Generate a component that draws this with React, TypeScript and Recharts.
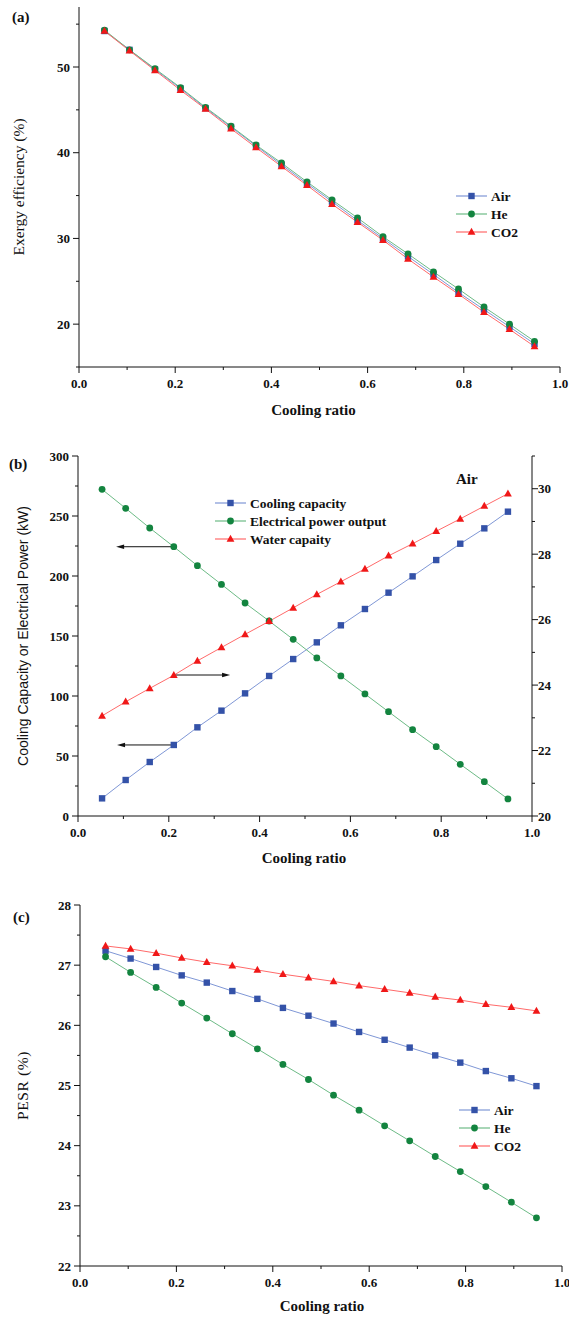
import React from "react";
import {
  LineChart,
  Line,
  XAxis,
  YAxis,
  Legend,
  Label,
  ReferenceLine,
} from "recharts";

// cooling ratio values shared by all three panels
const coolingRatio = [0.053, 0.105, 0.158, 0.211, 0.263, 0.316, 0.368, 0.421, 0.474, 0.526, 0.579, 0.632, 0.684, 0.737, 0.789, 0.842, 0.895, 0.947];

// (a) exergy efficiency (%)
const exergyAir = [54.2, 52.0, 49.7, 47.5, 45.2, 43.0, 40.8, 38.6, 36.4, 34.3, 32.1, 30.0, 27.9, 25.8, 23.7, 21.7, 19.7, 17.7];
const exergyHe = [54.3, 52.0, 49.8, 47.6, 45.3, 43.1, 40.9, 38.8, 36.6, 34.5, 32.4, 30.2, 28.2, 26.1, 24.1, 22.0, 20.0, 18.0];
const exergyCO2 = [54.2, 51.9, 49.6, 47.3, 45.1, 42.8, 40.6, 38.4, 36.2, 34.0, 31.9, 29.8, 27.6, 25.5, 23.5, 21.4, 19.4, 17.4];

// (b) air cycle: kW on the left, water capacity on the right
const coolingCapacity = [14.7, 30.0, 45.0, 59.2, 73.9, 87.8, 102.2, 116.7, 130.8, 144.7, 158.9, 172.5, 186.1, 199.7, 213.3, 226.9, 239.7, 253.6];
const electricalPower = [272.2, 256.4, 240.0, 224.4, 208.6, 193.0, 177.5, 162.5, 147.2, 131.7, 116.7, 101.7, 86.9, 71.9, 57.8, 43.1, 28.6, 14.2];
const waterCapacity = [23.06, 23.49, 23.9, 24.3, 24.74, 25.15, 25.55, 25.95, 26.36, 26.77, 27.16, 27.55, 27.95, 28.32, 28.7, 29.08, 29.47, 29.85];

// (c) PESR (%)
const pesrAir = [27.24, 27.11, 26.97, 26.83, 26.71, 26.57, 26.44, 26.29, 26.16, 26.03, 25.89, 25.76, 25.63, 25.5, 25.38, 25.24, 25.12, 24.99];
const pesrHe = [27.14, 26.88, 26.63, 26.37, 26.12, 25.86, 25.61, 25.35, 25.1, 24.84, 24.59, 24.33, 24.08, 23.82, 23.57, 23.32, 23.06, 22.8];
const pesrCO2 = [27.32, 27.27, 27.2, 27.12, 27.05, 26.99, 26.92, 26.85, 26.79, 26.73, 26.66, 26.6, 26.54, 26.47, 26.42, 26.35, 26.3, 26.24];

// tick labels
const xMajor = [0, 0.2, 0.4, 0.6, 0.8, 1.0];
const xTicks = [0, 0.1, 0.2, 0.3, 0.4, 0.5, 0.6, 0.7, 0.8, 0.9, 1.0];
const exergyMajor = [20, 30, 40, 50];
const exergyTicks = [15, 20, 25, 30, 35, 40, 45, 50, 55];
const powerMajor = [0, 50, 100, 150, 200, 250, 300];
const powerTicks = [0, 25, 50, 75, 100, 125, 150, 175, 200, 225, 250, 275, 300];
const waterMajor = [20, 22, 24, 26, 28, 30];
const waterTicks = [20, 21, 22, 23, 24, 25, 26, 27, 28, 29, 30, 31];
const pesrMajor = [22, 23, 24, 25, 26, 27, 28];
const pesrTicks = [22, 22.5, 23, 23.5, 24, 24.5, 25, 25.5, 26, 26.5, 27, 27.5, 28];

// arrows in (b): start at x=0.211 on a curve, point toward its axis
const arrowFrom = 0.211;
const arrowLevels = [224.4, 117.5, 59.2];
const arrowTo = [0.084, 0.335, 0.086];

const dataA = coolingRatio.map((x, i) => ({ x, air: exergyAir[i], he: exergyHe[i], co2: exergyCO2[i] }));
const dataB = coolingRatio.map((x, i) => ({ x, cool: coolingCapacity[i], elec: electricalPower[i], water: waterCapacity[i] }));
const dataC = coolingRatio.map((x, i) => ({ x, air: pesrAir[i], he: pesrHe[i], co2: pesrCO2[i] }));

const BLUE = { line: "#7f97d6", mark: "#3452a8" };
const GREEN = { line: "#6dbb86", mark: "#13843f" };
const RED = { line: "#ff6a6a", mark: "#f01818" };

const serif = "'Liberation Serif', 'DejaVu Serif', serif";
const tickFont = { fontFamily: serif, fontWeight: 700, fontSize: 13, fill: "#111" };

type Shape = "square" | "circle" | "triangle";

function marker(shape: Shape, cx: number, cy: number, fill: string, key?: any) {
  if (shape === "square") return <rect key={key} x={cx - 3.2} y={cy - 3.2} width={6.4} height={6.4} fill={fill} />;
  if (shape === "circle") return <circle key={key} cx={cx} cy={cy} r={3.4} fill={fill} />;
  return <polygon key={key} points={`${cx},${cy - 4.2} ${cx + 3.9},${cy + 2.8} ${cx - 3.9},${cy + 2.8}`} fill={fill} />;
}

const dotOf = (shape: Shape, fill: string) => (p: any) =>
  p.cx == null ? <g key={p.index} /> : marker(shape, p.cx, p.cy, fill, p.index);

type Side = "bottom" | "top" | "left" | "right";

function makeTick(side: Side, majors: number[], inward: boolean, label: boolean, fmt = (v: number) => String(v)) {
  return (p: any) => {
    const v = p.payload.value;
    const major = majors.some((m) => Math.abs(m - v) < 1e-9);
    const L = major ? 6 : 3;
    const { x, y } = p;
    let line;
    let text = null;
    if (side === "bottom") {
      line = <line x1={x} y1={y} x2={x} y2={y + (inward ? -L : L)} stroke="#111" />;
      if (major && label) text = <text x={x} y={y + 16} textAnchor="middle" dominantBaseline="central" {...tickFont}>{fmt(v)}</text>;
    } else if (side === "top") {
      line = <line x1={x} y1={y} x2={x} y2={y + (inward ? L : -L)} stroke="#111" />;
    } else if (side === "left") {
      line = <line x1={x} y1={y} x2={x + (inward ? L : -L)} y2={y} stroke="#111" />;
      if (major && label) text = <text x={x - 9} y={y} textAnchor="end" dominantBaseline="central" {...tickFont}>{fmt(v)}</text>;
    } else {
      line = <line x1={x} y1={y} x2={x + (inward ? -L : L)} y2={y} stroke="#111" />;
      if (major && label) text = <text x={x + 6} y={y} textAnchor="start" dominantBaseline="central" {...tickFont}>{fmt(v)}</text>;
    }
    return (
      <g>
        {line}
        {text}
      </g>
    );
  };
}

const fmtX = (v: number) => v.toFixed(1);

function xLabel(text: string, dy: number, dx = 0) {
  return (
    <Label
      content={(p: any) => {
        const vb = p.viewBox;
        return (
          <text x={vb.x + vb.width / 2 + dx} y={vb.y + dy} textAnchor="middle" dominantBaseline="central" fontFamily={serif} fontWeight={700} fontSize={15} fill="#111">
            {text}
          </text>
        );
      }}
    />
  );
}

function yLabel(text: string, cx: number, font: string, size: number, spacing = 0) {
  return (
    <Label
      content={(p: any) => {
        const vb = p.viewBox;
        const cy = vb.y + vb.height / 2;
        return (
          <text x={cx} y={cy} transform={`rotate(-90 ${cx} ${cy})`} textAnchor="middle" dominantBaseline="central" fontFamily={font} fontSize={size} letterSpacing={spacing} fill="#111">
            {text}
          </text>
        );
      }}
    />
  );
}

type LegendItem = { name: string; shape: Shape; line: string; mark: string };

function legendContent(items: LegendItem[]) {
  return () => (
    <svg width={200} height={items.length * 18 + 4}>
      {items.map((it, i) => {
        const y = 9 + i * 18;
        return (
          <g key={it.name}>
            <line x1={0} y1={y} x2={31} y2={y} stroke={it.line} strokeWidth={1.2} />
            {marker(it.shape, 15.5, y, it.mark)}
            <text x={35} y={y} dominantBaseline="central" fontFamily={serif} fontWeight={700} fontSize={13.5} fill="#111">
              {it.name}
            </text>
          </g>
        );
      })}
    </svg>
  );
}

const gasLegend: LegendItem[] = [
  { name: "Air", shape: "square", ...BLUE },
  { name: "He", shape: "circle", ...GREEN },
  { name: "CO2", shape: "triangle", ...RED },
];

const airLegend: LegendItem[] = [
  { name: "Cooling capacity", shape: "square", ...BLUE },
  { name: "Electrical power output", shape: "circle", ...GREEN },
  { name: "Water capaity", shape: "triangle", ...RED },
];

const ArrowShape = (p: any) => {
  const { x1, y1, x2, y2 } = p;
  const dir = x2 > x1 ? 1 : -1;
  return (
    <g>
      <line x1={x1} y1={y1} x2={x2 - dir * 4} y2={y2} stroke="#111" strokeWidth={1} />
      <polygon points={`${x2},${y2} ${x2 - dir * 8},${y2 - 2.3} ${x2 - dir * 8},${y2 + 2.3}`} fill="#111" />
    </g>
  );
};

const panelTag = (text: string, left: number, top: number) => (
  <div style={{ position: "absolute", left, top, fontFamily: serif, fontWeight: 700, fontSize: 15, lineHeight: "15px", color: "#111" }}>{text}</div>
);

const lineCommon = { type: "linear" as const, strokeWidth: 1, isAnimationActive: false, activeDot: false as const, xAxisId: "b" };

export default function App() {
  return (
    <div style={{ position: "absolute", left: 0, top: 0, width: 569, height: 1318, background: "#fff" }}>
      {/* (a) exergy efficiency */}
      <div style={{ position: "absolute", left: 0, top: 0 }}>
        <LineChart width={569} height={430} data={dataA} margin={{ top: 7, right: 9, bottom: 0, left: 0 }}>
          <XAxis xAxisId="b" dataKey="x" type="number" domain={[0, 1]} ticks={xTicks} interval={0} height={63} tickSize={0} tickMargin={0} tickLine={false} axisLine={{ stroke: "#111" }} tick={makeTick("bottom", xMajor, false, true, fmtX)}>
            {xLabel("Cooling ratio", 43, -6)}
          </XAxis>
          <XAxis xAxisId="t" orientation="top" type="number" domain={[0, 1]} ticks={xTicks} interval={0} height={0} tickSize={0} tickMargin={0} tickLine={false} axisLine={{ stroke: "#111" }} tick={makeTick("top", xMajor, true, false)} />
          <YAxis yAxisId="l" type="number" domain={[15, 57]} ticks={exergyTicks} interval={0} width={79} tickSize={0} tickMargin={0} tickLine={false} axisLine={{ stroke: "#111" }} tick={makeTick("left", exergyMajor, false, true)}>
            {yLabel("Exergy efficiency (%)", 18, serif, 15.5)}
          </YAxis>
          <YAxis yAxisId="r" orientation="right" type="number" domain={[15, 57]} ticks={exergyTicks} interval={0} width={0} tickSize={0} tickMargin={0} tickLine={false} axisLine={{ stroke: "#111" }} tick={makeTick("right", exergyMajor, true, false)} />
          <Legend layout="vertical" align="center" verticalAlign="middle" wrapperStyle={{ left: 456, top: 187, width: 200 }} content={legendContent(gasLegend)} />
          <Line {...lineCommon} yAxisId="l" dataKey="air" name="Air" stroke={BLUE.line} dot={dotOf("square", BLUE.mark)} />
          <Line {...lineCommon} yAxisId="l" dataKey="he" name="He" stroke={GREEN.line} dot={dotOf("circle", GREEN.mark)} />
          <Line {...lineCommon} yAxisId="l" dataKey="co2" name="CO2" stroke={RED.line} dot={dotOf("triangle", RED.mark)} />
        </LineChart>
        {panelTag("(a)", 12, 10)}
      </div>

      {/* (b) air: cooling capacity, electrical power, water capacity */}
      <div style={{ position: "absolute", left: 0, top: 440 }}>
        <LineChart width={569} height={430} data={dataB} margin={{ top: 16, right: 0, bottom: 0, left: 0 }}>
          <XAxis xAxisId="b" dataKey="x" type="number" domain={[0, 1]} ticks={xTicks} interval={0} height={54} tickSize={0} tickMargin={0} tickLine={false} axisLine={{ stroke: "#111" }} tick={makeTick("bottom", xMajor, false, true, fmtX)}>
            {xLabel("Cooling ratio", 42, -1)}
          </XAxis>
          <XAxis xAxisId="t" orientation="top" type="number" domain={[0, 1]} ticks={xTicks} interval={0} height={0} tickSize={0} tickMargin={0} tickLine={false} axisLine={{ stroke: "#111" }} tick={makeTick("top", xMajor, true, false)} />
          <YAxis yAxisId="l" type="number" domain={[0, 300]} ticks={powerTicks} interval={0} width={78} tickSize={0} tickMargin={0} tickLine={false} axisLine={{ stroke: "#111" }} tick={makeTick("left", powerMajor, false, true)}>
            {yLabel("Cooling Capacity or Electrical Power (kW)", 23, "'Liberation Sans', Arial, sans-serif", 14)}
          </YAxis>
          <YAxis yAxisId="r" orientation="right" type="number" domain={[20, 31]} ticks={waterTicks} interval={0} width={37} tickSize={0} tickMargin={0} tickLine={false} axisLine={{ stroke: "#111" }} tick={makeTick("right", waterMajor, false, true)} />
          <Legend layout="vertical" align="center" verticalAlign="middle" wrapperStyle={{ left: 215, top: 54, width: 220 }} content={legendContent(airLegend)} />
          {arrowLevels.map((lv, i) => (
            <ReferenceLine
              key={i}
              xAxisId="b"
              yAxisId="l"
              segment={[{ x: arrowFrom, y: lv }, { x: arrowTo[i], y: lv }]}
              shape={ArrowShape}
              ifOverflow="visible"
            />
          ))}
          <Line {...lineCommon} yAxisId="l" dataKey="cool" name="Cooling capacity" stroke={BLUE.line} dot={dotOf("square", BLUE.mark)} />
          <Line {...lineCommon} yAxisId="l" dataKey="elec" name="Electrical power output" stroke={GREEN.line} dot={dotOf("circle", GREEN.mark)} />
          <Line {...lineCommon} yAxisId="r" dataKey="water" name="Water capaity" stroke={RED.line} dot={dotOf("triangle", RED.mark)} />
        </LineChart>
        {panelTag("(b)", 9, 17)}
        <div style={{ position: "absolute", left: 456, top: 32, fontFamily: serif, fontWeight: 700, fontSize: 15, lineHeight: "15px", color: "#111" }}>Air</div>
      </div>

      {/* (c) PESR */}
      <div style={{ position: "absolute", left: 0, top: 880 }}>
        <LineChart width={569} height={438} data={dataC} margin={{ top: 25, right: 7, bottom: 0, left: 0 }}>
          <XAxis xAxisId="b" dataKey="x" type="number" domain={[0, 1]} ticks={xTicks} interval={0} height={52} tickSize={0} tickMargin={0} tickLine={false} axisLine={{ stroke: "#111" }} tick={makeTick("bottom", xMajor, false, true, fmtX)}>
            {xLabel("Cooling ratio", 40, 1)}
          </XAxis>
          <XAxis xAxisId="t" orientation="top" type="number" domain={[0, 1]} ticks={xTicks} interval={0} height={0} tickSize={0} tickMargin={0} tickLine={false} axisLine={{ stroke: "#111" }} tick={makeTick("top", xMajor, true, false)} />
          <YAxis yAxisId="l" type="number" domain={[22, 28]} ticks={pesrTicks} interval={0} width={80} tickSize={0} tickMargin={0} tickLine={false} axisLine={{ stroke: "#111" }} tick={makeTick("left", pesrMajor, false, true)}>
            {yLabel("PESR (%)", 22, serif, 15.5, 0.6)}
          </YAxis>
          <YAxis yAxisId="r" orientation="right" type="number" domain={[22, 28]} ticks={pesrTicks} interval={0} width={0} tickSize={0} tickMargin={0} tickLine={false} axisLine={{ stroke: "#111" }} tick={makeTick("right", pesrMajor, true, false)} />
          <Legend layout="vertical" align="center" verticalAlign="middle" wrapperStyle={{ left: 459, top: 221, width: 200 }} content={legendContent(gasLegend)} />
          <Line {...lineCommon} yAxisId="l" dataKey="air" name="Air" stroke={BLUE.line} dot={dotOf("square", BLUE.mark)} />
          <Line {...lineCommon} yAxisId="l" dataKey="he" name="He" stroke={GREEN.line} dot={dotOf("circle", GREEN.mark)} />
          <Line {...lineCommon} yAxisId="l" dataKey="co2" name="CO2" stroke={RED.line} dot={dotOf("triangle", RED.mark)} />
        </LineChart>
        {panelTag("(c)", 13, 30)}
      </div>
    </div>
  );
}
